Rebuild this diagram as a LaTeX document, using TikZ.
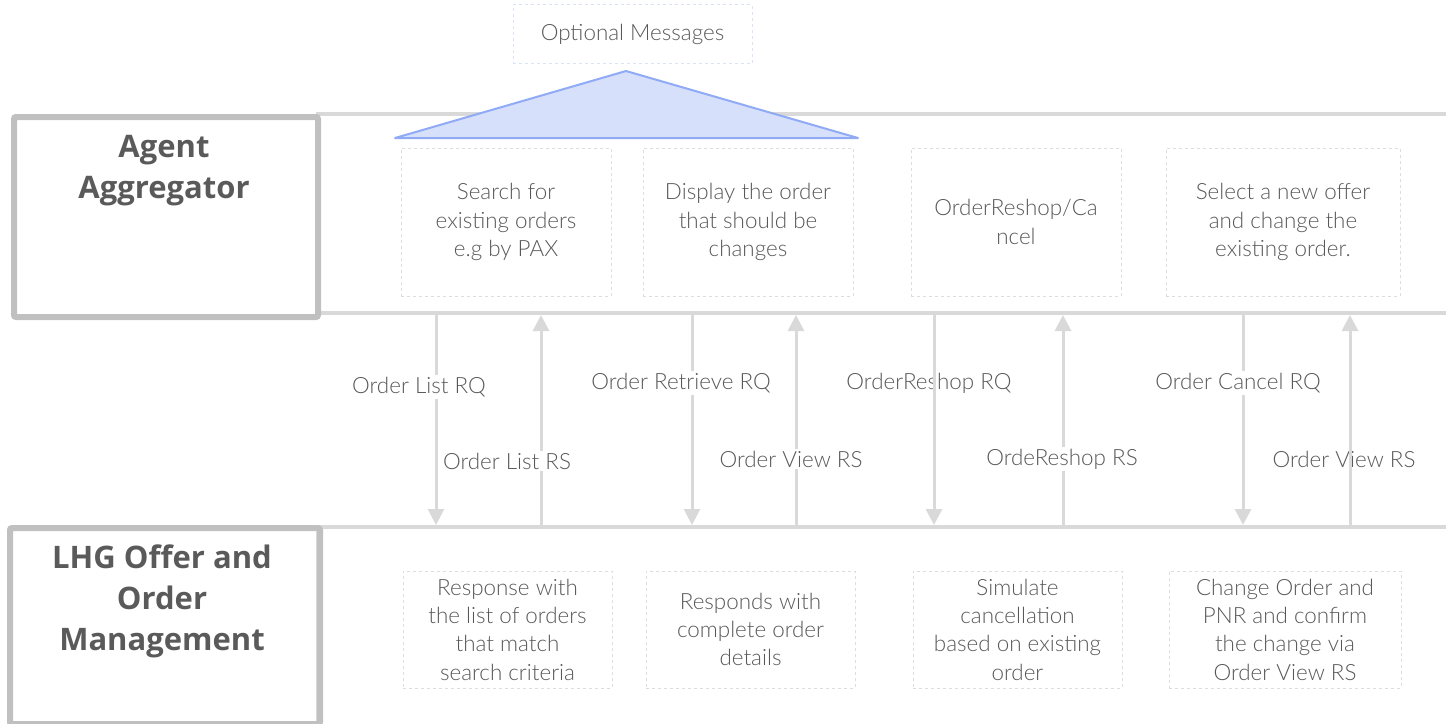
\documentclass[tikz,border=0pt]{standalone}
\usepackage{fontspec}
\setmainfont{Open Sans}
\newfontfamily\lightf{Lato Light}
\usetikzlibrary{arrows.meta}
\definecolor{lanebox}{HTML}{C0C0C0}
\definecolor{laneline}{HTML}{D9D9D9}
\definecolor{titletxt}{HTML}{5A5A5A}
\definecolor{bodytxt}{HTML}{585858}
\definecolor{dashc}{HTML}{DDDDDD}
\definecolor{optdash}{HTML}{DCE3F5}
\definecolor{trifill}{HTML}{D6E0FB}
\definecolor{tristroke}{HTML}{90AAF5}
\tikzset{
  lanetitle/.style={draw=lanebox, line width=3pt, rounded corners=1pt, anchor=north west, inner sep=0pt},
  titletext/.style={text=titletxt, font=\fontsize{15.5}{20.5}\selectfont\bfseries, align=center},
  stepbox/.style={draw=dashc, line width=0.4pt, dash pattern=on 1.5pt off 1.5pt, text=bodytxt,
    font=\lightf\fontsize{11.2}{14.15}\selectfont, align=center, inner sep=0pt},
  msg/.style={draw=laneline, line width=1.5pt, -{Triangle[width=8pt,length=8pt]}},
  msglabel/.style={text=bodytxt, font=\lightf\fontsize{11.2}{12}\selectfont, inner sep=1pt},
  msgfill/.style={msglabel, fill=white}
}
\begin{document}
\begin{tikzpicture}[x=0.5pt,y=-0.5pt]
\useasboundingbox (0,0) rectangle (1446,723);
% lanes
\draw[laneline, line width=1.8pt] (1450,114) -- (318,114) -- (318,313) -- (1450,313);
\draw[laneline, line width=1.8pt] (318,527) -- (1450,527);
\draw[laneline, line width=1.8pt] (318,527) -- (318,730);
\node[lanetitle, minimum width=152pt, minimum height=100pt] (agent) at (11,114) {};
\node[titletext] (agentT) at (164,171) {Agent\\Aggregator};
\node[lanetitle, minimum width=155pt, minimum height=98pt] (lhg) at (7,525) {};
\node[titletext] (lhgT) at (162,601) {LHG Offer and\\Order\\Management};
% optional messages
\node[draw=optdash, line width=0.4pt, dash pattern=on 1.5pt off 1.5pt, text=bodytxt,
  font=\lightf\fontsize{11.2}{12}\selectfont, minimum width=119.5pt, minimum height=29.5pt, inner sep=0pt] (opt) at (632.5,34) {Optional Messages};
\draw[fill=trifill, draw=tristroke, line width=1pt, line join=round] (626,71) -- (858,138) -- (395,138) -- cycle;
\coordinate (apex) at (626,71);
% top boxes
\node[stepbox, minimum width=105pt, minimum height=74pt] (s1) at (506,222) {Search for\\existing orders\\e.g by PAX};
\node[stepbox, minimum width=105pt, minimum height=74pt] (s2) at (748,222) {Display the order\\that should be\\changes};
\node[stepbox, minimum width=105pt, minimum height=74pt] (s3) at (1016,222) {OrderReshop/Ca\\ncel};
\node[stepbox, minimum width=117pt, minimum height=74pt] (s4) at (1283,222) {Select a new offer\\and change the\\existing order.};
% bottom boxes
\node[stepbox, minimum width=104.5pt, minimum height=58.5pt] (r1) at (507.5,629.5) {Response with\\the list of orders\\that match\\search criteria};
\node[stepbox, minimum width=104.5pt, minimum height=58.5pt] (r2) at (750.5,629.5) {Responds with\\complete order\\details};
\node[stepbox, minimum width=104.5pt, minimum height=58.5pt] (r3) at (1017.5,629.5) {Simulate\\cancellation\\based on existing\\order};
\node[stepbox, minimum width=116pt, minimum height=58.5pt] (r4) at (1285,629.5) {Change Order and\\PNR and confirm\\the change via\\Order View RS};
% message endpoints
\foreach \n/\x in {1/436,2/541,3/692,4/796,5/934,6/1063,7/1243,8/1350}{
  \coordinate (t\n) at (\x,315);
  \coordinate (b\n) at (\x,525);
}
% labels without fill (under arrows)
\node[msglabel] (l5) at (929,383) {OrderReshop RQ};
\node[msglabel] (l8) at (1344,459) {Order View RS};
% arrows
\draw[msg] (t1) -- (b1);
\draw[msg] (b2) -- (t2);
\draw[msg] (t3) -- (b3);
\draw[msg] (b4) -- (t4);
\draw[msg] (t5) -- (b5);
\draw[msg] (b6) -- (t6);
\draw[msg] (t7) -- (b7);
\draw[msg] (b8) -- (t8);
% labels with fill
\node[msgfill] (l1) at (419,387) {Order List RQ};
\node[msgfill] (l2) at (507,461) {Order List RS};
\node[msgfill] (l3) at (681,383) {Order Retrieve RQ};
\node[msgfill] (l4) at (791,459) {Order View RS};
\node[msgfill] (l6) at (1062,459) {OrdeReshop RS};
\node[msgfill] (l7) at (1238,383) {Order Cancel RQ};
\end{tikzpicture}
\end{document}
